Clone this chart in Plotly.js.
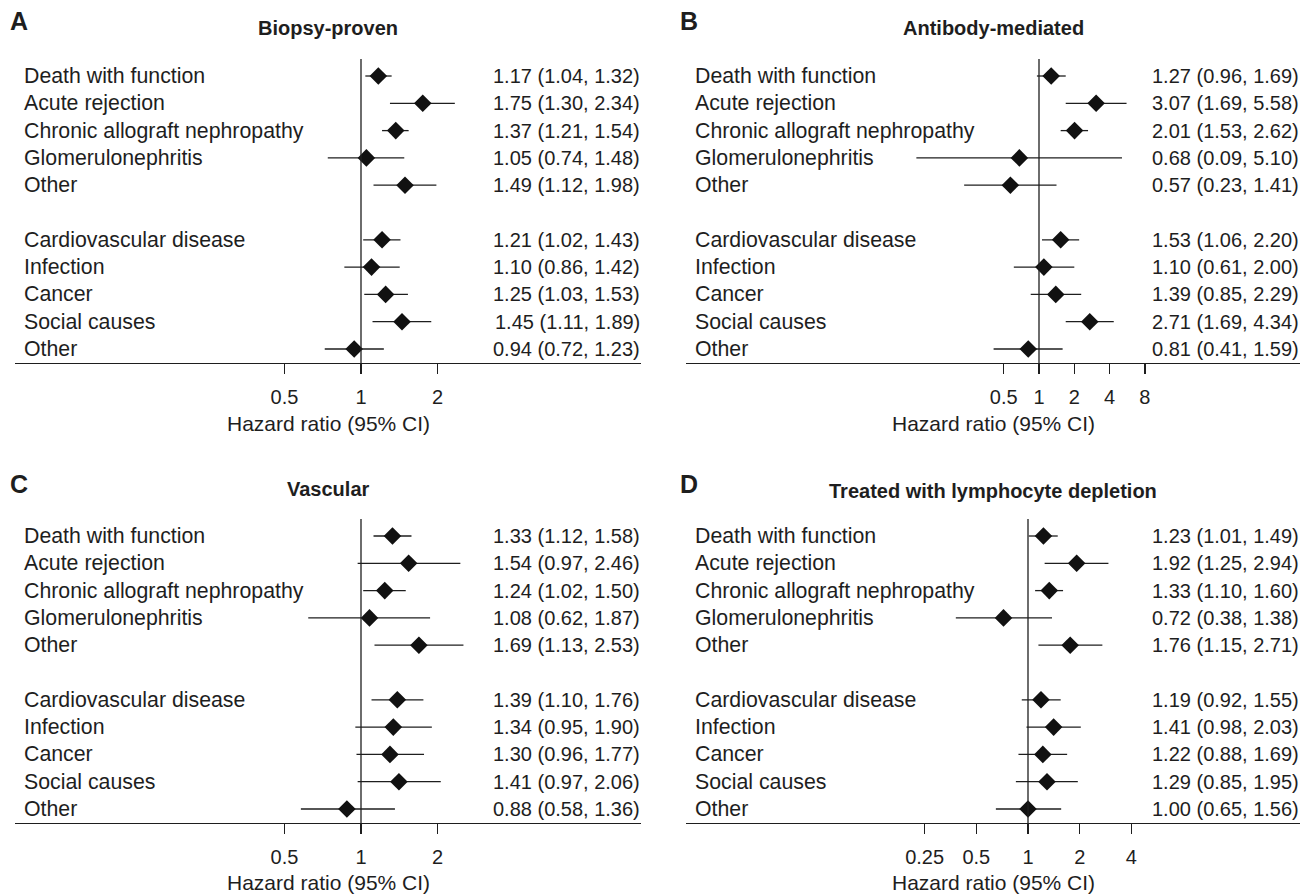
<!DOCTYPE html>
<html>
<head>
<meta charset="utf-8">
<script src="https://cdn.plot.ly/plotly-3.0.1.min.js"></script>
<style>html,body{margin:0;padding:0;background:#fff;}#chart{width:1314px;height:894px;}</style>
</head>
<body>
<div id="chart"></div>
<script>
// ---------- DATA ----------
const rowLabels = ["Death with function","Acute rejection","Chronic allograft nephropathy","Glomerulonephritis","Other",
                   "Cardiovascular disease","Infection","Cancer","Social causes","Other"];
const rowPos = [0,1,2,3,4,6,7,8,9,10];

const panelLetters = ["A","B","C","D"];
const panelTitles = ["Biopsy-proven","Antibody-mediated","Vascular","Treated with lymphocyte depletion"];
const axisTitle = "Hazard ratio (95% CI)";

const hrA = [1.17,1.75,1.37,1.05,1.49,1.21,1.10,1.25,1.45,0.94];
const loA = [1.04,1.30,1.21,0.74,1.12,1.02,0.86,1.03,1.11,0.72];
const hiA = [1.32,2.34,1.54,1.48,1.98,1.43,1.42,1.53,1.89,1.23];

const hrB = [1.27,3.07,2.01,0.68,0.57,1.53,1.10,1.39,2.71,0.81];
const loB = [0.96,1.69,1.53,0.09,0.23,1.06,0.61,0.85,1.69,0.41];
const hiB = [1.69,5.58,2.62,5.10,1.41,2.20,2.00,2.29,4.34,1.59];

const hrC = [1.33,1.54,1.24,1.08,1.69,1.39,1.34,1.30,1.41,0.88];
const loC = [1.12,0.97,1.02,0.62,1.13,1.10,0.95,0.96,0.97,0.58];
const hiC = [1.58,2.46,1.50,1.87,2.53,1.76,1.90,1.77,2.06,1.36];

const hrD = [1.23,1.92,1.33,0.72,1.76,1.19,1.41,1.22,1.29,1.00];
const loD = [1.01,1.25,1.10,0.38,1.15,0.92,0.98,0.88,0.85,0.65];
const hiD = [1.49,2.94,1.60,1.38,2.71,1.55,2.03,1.69,1.95,1.56];

const ticksA = [0.5,1,2];
const ticksB = [0.5,1,2,4,8];
const ticksC = [0.5,1,2];
const ticksD = [0.25,0.5,1,2,4];

// ---------- LAYOUT (pixels) ----------
const W = 1314, H = 894;
const FONT = "Liberation Sans, Arial, Helvetica, sans-serif";
const INK = "#1e1e1e";
const pitch = 27.3;
const topPad = 0.62, botPad = 0.51;

const panels = [
  {hr:hrA, lo:loA, hi:hiA, ticks:ticksA, left:15,  right:641,  one:361,  log2px:76.5, row0:76,  titleY:28,  letterX:8,   letterY:21,  axTitleY:423},
  {hr:hrB, lo:loB, hi:hiB, ticks:ticksB, left:686, right:1300, one:1039, log2px:35.3, row0:76,  titleY:28,  letterX:678, letterY:21,  axTitleY:423},
  {hr:hrC, lo:loC, hi:hiC, ticks:ticksC, left:15,  right:641,  one:361,  log2px:76.5, row0:536, titleY:489, letterX:8,   letterY:484, axTitleY:882},
  {hr:hrD, lo:loD, hi:hiD, ticks:ticksD, left:686, right:1300, one:1028, log2px:51.7, row0:536, titleY:491, letterX:678, letterY:484, axTitleY:882}
];

const px = v => v / W;
const py = v => 1 - v / H;
const fmt = v => v.toFixed(2);

const traces = [];
const layout = {
  width: W, height: H,
  margin: {l:0, r:0, t:0, b:0},
  paper_bgcolor: "#fff", plot_bgcolor: "rgba(0,0,0,0)",
  showlegend: false,
  font: {family: FONT, color: INK, size: 21},
  annotations: [], shapes: []
};

panels.forEach((p, i) => {
  const k = i + 1;
  const xa = "x" + k, ya = "y" + k;
  const xname = "xaxis" + (k === 1 ? "" : k), yname = "yaxis" + (k === 1 ? "" : k);
  const perDec = p.log2px / Math.log10(2);
  const yTop = p.row0 - topPad * pitch;
  const yBot = p.row0 + (10 + botPad) * pitch;

  layout[xname] = {
    type: "log",
    domain: [px(p.left), px(p.right)],
    range: [-(p.one - p.left) / perDec, (p.right - p.one) / perDec],
    anchor: ya,
    showline: true, linecolor: INK, linewidth: 1.3,
    ticks: "outside", ticklen: 10, tickwidth: 1.3, tickcolor: INK,
    tickvals: p.ticks, ticktext: p.ticks.map(String),
    tickfont: {size: 20, color: INK, family: FONT},
    ticklabelstandoff: 6,
    showgrid: false, zeroline: false, fixedrange: true
  };
  layout[yname] = {
    domain: [py(yBot), py(yTop)],
    range: [10 + botPad, -topPad],
    anchor: xa, visible: false, showgrid: false, zeroline: false, fixedrange: true
  };

  // reference line at HR = 1
  layout.shapes.push({type: "line", xref: xa, yref: ya + " domain", x0: 1, x1: 1, y0: 0, y1: 1,
                      line: {color: INK, width: 1.3}});

  // points with CI
  traces.push({
    type: "scatter", mode: "markers", xaxis: xa, yaxis: ya,
    x: p.hr, y: rowPos,
    marker: {symbol: "diamond", size: 13.5, color: "#111", line: {width: 0}},
    error_x: {type: "data", symmetric: false,
              array: p.hi.map((h, j) => h - p.hr[j]),
              arrayminus: p.lo.map((l, j) => p.hr[j] - l),
              width: 0, thickness: 1.3, color: INK},
    hoverinfo: "skip"
  });

  // row labels and values
  rowLabels.forEach((lab, j) => {
    layout.annotations.push({xref: "paper", yref: ya, x: px(p.left + 7), y: rowPos[j],
      xanchor: "left", yanchor: "middle", text: lab, showarrow: false,
      font: {size: 21.3, color: INK, family: FONT}});
    layout.annotations.push({xref: "paper", yref: ya, x: px(p.right + 1), y: rowPos[j],
      xanchor: "right", yanchor: "middle",
      text: fmt(p.hr[j]) + " (" + fmt(p.lo[j]) + ", " + fmt(p.hi[j]) + ")",
      showarrow: false, font: {size: 20, color: INK, family: FONT}});
  });

  const cx = (p.left + p.right) / 2;
  // panel title
  layout.annotations.push({xref: "paper", yref: "paper", x: px(cx), y: py(p.titleY),
    xanchor: "center", yanchor: "middle", text: "<b>" + panelTitles[i] + "</b>", showarrow: false,
    font: {size: 20, color: INK, family: FONT}});
  // panel letter
  layout.annotations.push({xref: "paper", yref: "paper", x: px(p.letterX), y: py(p.letterY),
    xanchor: "left", yanchor: "middle", text: "<b>" + panelLetters[i] + "</b>", showarrow: false,
    font: {size: 25, color: INK, family: FONT}});
  // axis title
  layout.annotations.push({xref: "paper", yref: "paper", x: px(cx), y: py(p.axTitleY),
    xanchor: "center", yanchor: "middle", text: axisTitle, showarrow: false,
    font: {size: 21, color: INK, family: FONT}});
});

Plotly.newPlot("chart", traces, layout, {displayModeBar: false, staticPlot: true});
</script>
</body>
</html>
